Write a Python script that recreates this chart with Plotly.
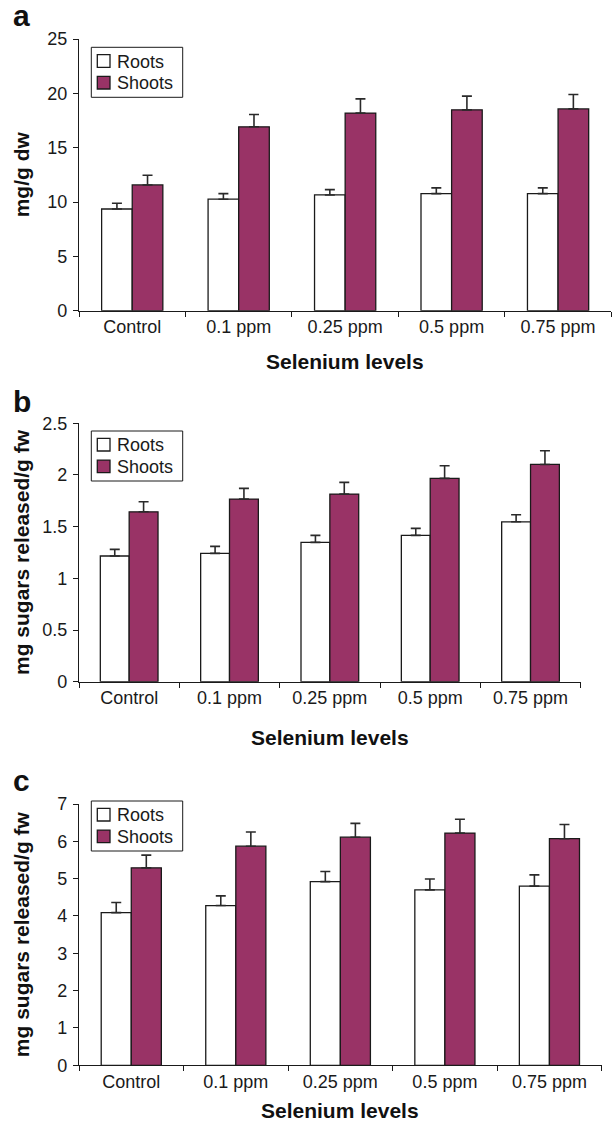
import plotly.graph_objects as go

categories = ["Control", "0.1 ppm", "0.25 ppm", "0.5 ppm", "0.75 ppm"]
series_names = ["Roots", "Shoots"]

a_roots = [9.36, 10.26, 10.65, 10.77, 10.77]
a_roots_err = [0.53, 0.51, 0.49, 0.53, 0.53]
a_shoots = [11.57, 16.92, 18.18, 18.48, 18.57]
a_shoots_err = [0.90, 1.13, 1.31, 1.26, 1.32]

b_roots = [1.216, 1.242, 1.348, 1.416, 1.547]
b_roots_err = [0.064, 0.067, 0.068, 0.067, 0.068]
b_shoots = [1.644, 1.767, 1.815, 1.967, 2.102]
b_shoots_err = [0.097, 0.103, 0.113, 0.122, 0.132]

c_roots = [4.09, 4.28, 4.92, 4.70, 4.80]
c_roots_err = [0.27, 0.26, 0.27, 0.29, 0.30]
c_shoots = [5.29, 5.87, 6.11, 6.22, 6.07]
c_shoots_err = [0.34, 0.38, 0.37, 0.37, 0.38]

y_titles = ["mg/g dw", "mg sugars released/g fw", "mg sugars released/g fw"]
x_title = "Selenium levels"
panel_letters = ["a", "b", "c"]
y_ranges = [[0, 25], [0, 2.5], [0, 7]]
y_dticks = [5, 0.5, 1]

W, H = 614, 1128
FONT = "Liberation Sans, Arial, sans-serif"
SHOOT_COLOR = "#993366"
series_colors = ["white", SHOOT_COLOR]
EDGE = "#1a1a1a"

# panel geometry in pixels: (x_left, x_right, y_top, y_bottom)
geo = [
    (79, 611.3, 39, 310.7),
    (79, 580.7, 423.3, 681.7),
    (79, 601.7, 804, 1065.3),
]
legend_top = [47.3, 431, 801]
letter_center = [15, 401.5, 780.5]
xtitle_center = [361.7, 737, 1110]

fig = go.Figure()

panels = [
    (a_roots, a_roots_err, a_shoots, a_shoots_err),
    (b_roots, b_roots_err, b_shoots, b_shoots_err),
    (c_roots, c_roots_err, c_shoots, c_shoots_err),
]

for i, (r, re_, s, se) in enumerate(panels):
    suffix = "" if i == 0 else str(i + 1)
    err_style = dict(type="data", symmetric=False, color="#2a2a2a", thickness=1.6, width=5)
    for name, vals, errs, col in zip(series_names, (r, s), (re_, se), series_colors):
        fig.add_trace(go.Bar(
            x=categories, y=vals, name=name, showlegend=False,
            marker=dict(color=col, line=dict(color=EDGE, width=1.3)),
            error_y=dict(array=errs, arrayminus=[0] * len(errs), **err_style),
            xaxis="x" + suffix, yaxis="y" + suffix,
        ))

layout = dict(
    template="none",
    width=W, height=H, autosize=False,
    margin=dict(l=0, r=0, t=0, b=0, pad=0),
    paper_bgcolor="white", plot_bgcolor="white",
    barmode="group", bargap=0.425, bargroupgap=0,
    font=dict(family=FONT, color=EDGE, size=18),
    showlegend=False,
)

annotations = []
shapes = []


def px(x):
    return x / W


def py(y):
    return 1 - y / H


for i in range(3):
    xl, xr, yt, yb = geo[i]
    suffix = "" if i == 0 else str(i + 1)
    layout["xaxis" + suffix] = dict(
        domain=[px(xl), px(xr)], anchor="y" + suffix, type="category", automargin=False,
        range=[-0.5, 4.5], tickson="boundaries", ticks="outside", ticklen=5,
        tickwidth=1.3, tickcolor=EDGE,
        showline=True, linecolor=EDGE, linewidth=1.3, showgrid=False,
        zeroline=False, tickfont=dict(size=18, family=FONT), fixedrange=True,
    )
    layout["yaxis" + suffix] = dict(
        domain=[py(yb), py(yt)], anchor="x" + suffix, range=y_ranges[i], dtick=y_dticks[i],
        automargin=False,
        ticks="outside", ticklen=5, tickwidth=1.3, tickcolor=EDGE,
        showline=True, linecolor=EDGE, linewidth=1.3, showgrid=False,
        zeroline=False, tickfont=dict(size=18, family=FONT), fixedrange=True,
        ticklabelstandoff=2,
    )

    # legend box (drawn in paper space)
    lt = legend_top[i]
    shapes.append(dict(type="rect", xref="paper", yref="paper",
                       x0=px(91.3), x1=px(182.7), y0=py(lt + 50), y1=py(lt),
                       line=dict(color=EDGE, width=1), fillcolor="white", layer="above"))
    for k, (name, col) in enumerate(zip(series_names, series_colors)):
        cy = lt + 13.7 + k * 21.7
        shapes.append(dict(type="rect", xref="paper", yref="paper",
                           x0=px(97.3), x1=px(110), y0=py(cy + 6.3), y1=py(cy - 6.3),
                           line=dict(color=EDGE, width=1.3), fillcolor=col, layer="above"))
        annotations.append(dict(
            text=name, showarrow=False, xref="paper", yref="paper",
            x=px(114.5), y=py(cy + 0.5), xanchor="left", yanchor="middle",
            font=dict(size=18, family=FONT, color=EDGE),
        ))

    annotations.append(dict(
        text="<b>%s</b>" % y_titles[i], textangle=-90, showarrow=False,
        xref="paper", yref="paper", x=px(21.5), y=py((yt + yb) / 2),
        xanchor="center", yanchor="middle", font=dict(size=21, family=FONT, color="#111"),
    ))
    annotations.append(dict(
        text="<b>%s</b>" % x_title, showarrow=False,
        xref="paper", yref="paper", x=px((xl + xr) / 2), y=py(xtitle_center[i]),
        xanchor="center", yanchor="middle", font=dict(size=21, family=FONT, color="#111"),
    ))
    annotations.append(dict(
        text="<b>%s</b>" % panel_letters[i], showarrow=False,
        xref="paper", yref="paper", x=px(11), y=py(letter_center[i]),
        xanchor="left", yanchor="middle", font=dict(size=30, family=FONT, color="#111"),
    ))

layout["annotations"] = annotations
layout["shapes"] = shapes
fig.update_layout(**layout)
fig.write_html(
    "out.html",
    config={"displayModeBar": False},
    post_script="document.body.style.margin='0';document.body.style.overflow='hidden';",
)
